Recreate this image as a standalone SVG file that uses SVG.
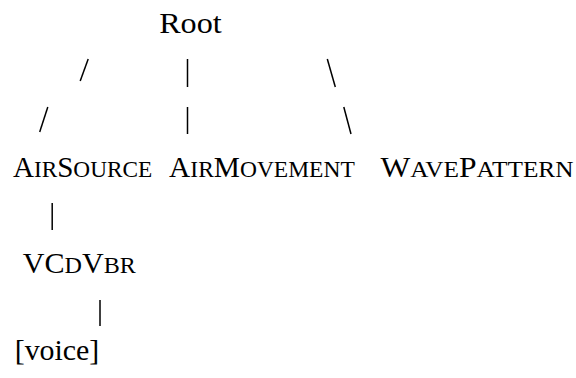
<svg xmlns="http://www.w3.org/2000/svg" width="576" height="378" viewBox="0 0 576 378">
<style>
text{font-family:'Liberation Serif', serif;font-size:30px;fill:#000}
.sc{font-size:24px}
.c line{stroke:#000;stroke-width:1.5}
</style>
<rect width="576" height="378" fill="#fff"/>
<g class="c" id="connectors">
<line x1="88.2" y1="59" x2="80.2" y2="81"/>
<line x1="187.5" y1="59" x2="187.5" y2="87"/>
<line x1="327.3" y1="59" x2="335.3" y2="87"/>
<line x1="47.8" y1="107" x2="39.7" y2="132"/>
<line x1="187.5" y1="107" x2="187.5" y2="134"/>
<line x1="343.8" y1="107" x2="351" y2="134"/>
<line x1="52.2" y1="203" x2="52.2" y2="230"/>
<line x1="100" y1="300" x2="100" y2="326"/>
</g>
<g id="root"><text x="159.2" y="33.3" font-size="29" textLength="62.5" lengthAdjust="spacingAndGlyphs">Root</text></g>
<g id="airsource"><text x="12.9" y="176.7" textLength="139.3" lengthAdjust="spacingAndGlyphs">A<tspan class="sc">IR</tspan>S<tspan class="sc">OURCE</tspan></text></g>
<g id="airmovement"><text x="169.1" y="176.7" textLength="185.7" lengthAdjust="spacingAndGlyphs">A<tspan class="sc">IR</tspan>M<tspan class="sc">OVEMENT</tspan></text></g>
<g id="wavepattern"><text x="380.5" y="176.7" textLength="193" lengthAdjust="spacingAndGlyphs">W<tspan class="sc">AVE</tspan>P<tspan class="sc">ATTERN</tspan></text></g>
<g id="vcdvbr"><text x="22.8" y="273.3" textLength="113" lengthAdjust="spacingAndGlyphs">VC<tspan class="sc">D</tspan>V<tspan class="sc">BR</tspan></text></g>
<g id="voice"><text x="14.7" y="360" font-size="29" textLength="84.6" lengthAdjust="spacingAndGlyphs">[voice]</text></g>
</svg>
